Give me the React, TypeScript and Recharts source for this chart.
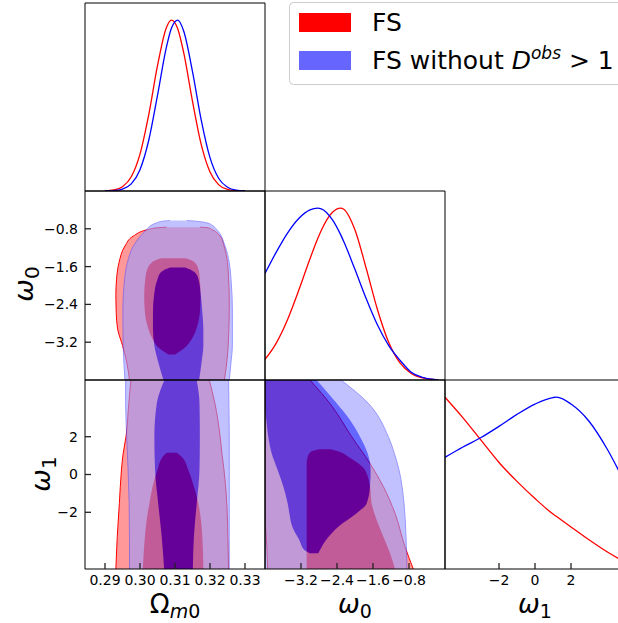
import React from 'react';
import { ComposedChart, LineChart, Line, Area, XAxis, YAxis } from 'recharts';

const RED = '#ff0000';
const BLUE = '#0000ff';

// panel grid (pixels on the page)
const COLS = [85, 265, 445];
const ROWS = [3, 191, 380];
const PW = 180;
const PH = [188, 189, 189];
const M0 = { top: 0, right: 0, bottom: 0, left: 0 };

// axes
const omDomain = [0.284286, 0.335714];
const w0Domain = [-4, 0];
const w1Domain = [-5, 5];
const pDomain = [0, 1.1];
const omTicks = [0.29, 0.3, 0.31, 0.32, 0.33];
const w0Ticks = [-3.2, -2.4, -1.6, -0.8];
const w1Ticks = [-2, 0, 2];

// 1D marginals
const omGrid = [0.29, 0.2925, 0.295, 0.2975, 0.3, 0.3025, 0.305, 0.3075, 0.309, 0.3108, 0.3125, 0.315, 0.3175, 0.32, 0.3225, 0.325, 0.3275, 0.33];
const omFS = [0.001, 0.006, 0.025, 0.083, 0.216, 0.447, 0.733, 0.954, 1.0, 0.948, 0.808, 0.525, 0.271, 0.111, 0.036, 0.009, 0.002, 0.0];
const omNoD = [0.0, 0.002, 0.011, 0.042, 0.125, 0.297, 0.56, 0.837, 0.954, 1.0, 0.935, 0.699, 0.415, 0.195, 0.073, 0.022, 0.005, 0.001];

const w0Grid = [-4, -3.75, -3.5, -3.25, -3.0, -2.83, -2.75, -2.5, -2.32, -2.25, -2.0, -1.75, -1.5, -1.25, -1.0, -0.75, -0.5, -0.25, -0.15];
const w0FS = [0.12, 0.215, 0.351, 0.522, 0.706, 0.822, 0.87, 0.976, 1.0, 0.994, 0.873, 0.649, 0.409, 0.218, 0.099, 0.038, 0.012, 0.003, 0.001];
const w0NoD = [0.62, 0.744, 0.855, 0.94, 0.99, 1.0, 0.996, 0.932, 0.846, 0.806, 0.643, 0.473, 0.32, 0.2, 0.115, 0.045, 0.015, 0.003, 0.001];

const w1Grid = [-5, -4, -3, -2, -1, 0, 1, 1.2, 2, 3, 4, 5];
const w1FS = [1.0, 0.88, 0.75, 0.62, 0.51, 0.41, 0.32, 0.305, 0.245, 0.17, 0.1, 0.04];
const w1NoD = [0.65, 0.71, 0.765, 0.83, 0.9, 0.96, 0.998, 1.0, 0.96, 0.86, 0.7, 0.5];

// 2D contours: [y, xLow, xHigh]
// Omega_m0 (x) vs w0 (y)
const mlFSOuter = [
  [-0.765, 0.3076, 0.3171], [-0.78, 0.3048, 0.3195], [-0.814, 0.3024, 0.3205], [-0.954, 0.2981, 0.3229],
  [-1.165, 0.2957, 0.324], [-1.516, 0.294, 0.325], [-1.867, 0.2933, 0.3253], [-2.218, 0.2931, 0.3255],
  [-2.568, 0.2932, 0.3255], [-2.919, 0.2936, 0.3254], [-3.27, 0.295, 0.3252], [-3.62, 0.2962, 0.3248],
  [-4.0, 0.297, 0.3241],
];
const mlFSInner = [
  [-1.425, 0.3062, 0.3129], [-1.46, 0.3046, 0.3145], [-1.516, 0.3033, 0.3157], [-1.656, 0.3021, 0.3167],
  [-1.867, 0.3015, 0.3171], [-2.218, 0.3012, 0.3173], [-2.568, 0.3014, 0.3171], [-2.849, 0.3021, 0.3164],
  [-3.13, 0.3036, 0.3148], [-3.34, 0.3057, 0.3124], [-3.46, 0.3081, 0.31],
];
const mlNoDOuter = [
  [-0.625, 0.3085, 0.3134], [-0.64, 0.3064, 0.316], [-0.674, 0.3048, 0.3191], [-0.73, 0.3031, 0.3207],
  [-0.814, 0.3019, 0.3219], [-1.165, 0.2981, 0.3243], [-1.516, 0.2964, 0.3255], [-1.867, 0.2956, 0.326],
  [-2.568, 0.2951, 0.3264], [-3.27, 0.2952, 0.3264], [-3.62, 0.2954, 0.326], [-4.0, 0.2957, 0.3255],
];
const mlNoDInner = [
  [-1.621, 0.3086, 0.3129], [-1.68, 0.3067, 0.3148], [-1.726, 0.3059, 0.3157], [-1.867, 0.305, 0.3167],
  [-2.218, 0.304, 0.3174], [-2.568, 0.3037, 0.3178], [-2.919, 0.3037, 0.3181], [-3.27, 0.3041, 0.3181],
  [-3.62, 0.3052, 0.3176], [-4.0, 0.3067, 0.3169],
];

// Omega_m0 (x) vs w1 (y)
const blFSOuter = [
  [5, 0.2974, 0.3198], [3.765, 0.2968, 0.3214], [2.0, 0.296, 0.3229], [1.12, 0.2952, 0.3234],
  [0.24, 0.2947, 0.324], [-1.53, 0.2941, 0.3248], [-3.29, 0.2935, 0.3251], [-5, 0.2931, 0.3253],
];
const blFSInner = [
  [1.155, 0.3076, 0.3105], [0.94, 0.3065, 0.3119], [0.24, 0.305, 0.3138], [-0.64, 0.3036, 0.3154],
  [-1.53, 0.3027, 0.3167], [-2.41, 0.3019, 0.3174], [-3.29, 0.3014, 0.3178], [-5, 0.3008, 0.3181],
];
const blNoDOuter = [
  [5, 0.2959, 0.3253], [3.765, 0.2959, 0.3254], [2.0, 0.2962, 0.3255], [0.24, 0.2966, 0.3255],
  [-1.53, 0.2969, 0.3255], [-3.29, 0.297, 0.3255], [-5, 0.297, 0.3255],
];
const blNoDInner = [
  [5, 0.307, 0.3162], [3.765, 0.3048, 0.317], [2.0, 0.3041, 0.3171], [0.24, 0.3043, 0.317],
  [-1.53, 0.3052, 0.3162], [-3.29, 0.3062, 0.3154], [-5, 0.3069, 0.3151],
];

// w0 (x) vs w1 (y)
const bmFSOuter = [
  [5, -4, -3.0], [3.59, -4, -2.504], [2.0, -4, -2.074], [0.59, -4, -1.667], [-0.64, -4, -1.37],
  [-2.05, -4, -1.111], [-3.82, -3.96, -0.889], [-5, -3.94, -0.704],
];
const bmFSInner = [
  [1.33, -2.78, -2.55], [1.2, -2.98, -2.35], [0.94, -3.05, -2.15], [0.59, -3.074, -1.93], [0.24, -3.074, -1.778],
  [-0.64, -3.074, -1.667], [-1.53, -3.074, -1.63], [-2.41, -3.074, -1.519], [-3.29, -3.074, -1.37],
  [-4.17, -3.074, -1.222], [-5, -3.074, -1.111],
];
const bmNoDOuter = [
  [5, -4, -2.311], [3.765, -4, -1.704], [2.0, -4, -1.259], [1.12, -4, -1.126], [0.24, -4, -1.022],
  [-1.53, -4, -0.911], [-3.29, -4, -0.867], [-5, -4, -0.844],
];
const bmNoDInner = [
  [5, -4, -2.852], [3.765, -4, -2.407], [2.88, -3.97, -2.111], [2.0, -3.926, -1.889], [1.12, -3.852, -1.719],
  [0.24, -3.719, -1.652], [-0.64, -3.593, -1.667], [-1.53, -3.496, -1.741], [-2.05, -3.459, -1.963],
  [-2.76, -3.393, -2.37], [-3.47, -3.237, -2.644], [-4.0, -3.126, -2.778], [-4.17, -3.0, -2.815],
];

const rows = (a: number[][]) => a.map(([y, lo, hi]) => ({ y, r: [lo, hi] }));
const curve = (xs: number[], ys: number[]) => xs.map((x, i) => ({ x, p: ys[i] }));
const minus = (s: string) => s.replace('-', '\u2212');
const fmtOm = (v: number) => v.toFixed(2);
const fmtW0 = (v: number) => minus(v.toFixed(1));
const fmtW1 = (v: number) => minus(String(v));

type Cont = {
  left: number; top: number; h: number; xd: number[]; yd: number[];
  outer: number[][]; inner: number[][]; outerFill: string; innerFill: string; stroke: string; opacity?: number;
};

const Contours = ({ left, top, h, xd, yd, outer, inner, outerFill, innerFill, stroke, opacity = 1 }: Cont) => (
  <div style={{ position: 'absolute', left, top, opacity }}>
    <ComposedChart layout="vertical" width={PW} height={h} margin={M0}>
      <XAxis type="number" domain={xd} allowDataOverflow hide />
      <YAxis type="number" dataKey="y" domain={yd} allowDataOverflow reversed hide />
      <Area data={rows(outer)} dataKey="r" type="monotone" fill={outerFill} fillOpacity={1}
        stroke={stroke} strokeWidth={1} isAnimationActive={false} activeDot={false} />
      <Area data={rows(inner)} dataKey="r" type="monotone" fill={innerFill} fillOpacity={1}
        stroke="none" isAnimationActive={false} activeDot={false} />
    </ComposedChart>
  </div>
);

const Marginal = ({ left, top, h, xd, grid, fs, nod }: any) => (
  <div style={{ position: 'absolute', left, top }}>
    <LineChart width={PW} height={h} margin={M0}>
      <XAxis type="number" dataKey="x" domain={xd} allowDataOverflow hide />
      <YAxis type="number" domain={pDomain} allowDataOverflow hide />
      <Line data={curve(grid, fs)} dataKey="p" type="monotone" stroke={RED} strokeWidth={1.3} dot={false} isAnimationActive={false} />
      <Line data={curve(grid, nod)} dataKey="p" type="monotone" stroke={BLUE} strokeWidth={1.3} dot={false} isAnimationActive={false} />
    </LineChart>
  </div>
);

const tickFont = { fontSize: 14, fill: '#000' };
const spine = { stroke: '#000', strokeWidth: 1 };
const tickStyle = { stroke: '#222', strokeWidth: 1.3 };

// axes need a non-zero thickness to be drawn, so the frame chart is 1px bigger on every side
const Frame = ({ left, top, h, xd, yd, xt, yt, xFmt, yFmt, xLab, yLab, topT, rightT, leftT }: any) => {
  const yTicks = yt.length ? yt : [yd[0]];
  const yTL = yt.length > 0;
  return (
    <div style={{ position: 'absolute', left: left - 1, top: top - 1 }}>
      <ComposedChart width={PW + 2} height={h + 2} margin={M0} data={[{ fx: xd[0], fy: yd[0] }, { fx: xd[1], fy: yd[1] }]}>
        <XAxis xAxisId="b" type="number" dataKey="fx" domain={xd} allowDataOverflow ticks={xt} interval={0}
          height={1} tickSize={-6} tickMargin={12} tick={xLab ? tickFont : false} tickFormatter={xFmt}
          axisLine={spine} tickLine={tickStyle} />
        <XAxis xAxisId="t" orientation="top" type="number" dataKey="fx" domain={xd} allowDataOverflow ticks={xt} interval={0}
          height={1} tickSize={-6} tick={false} axisLine={spine} tickLine={topT ? tickStyle : false} />
        <YAxis yAxisId="l" type="number" dataKey="fy" domain={yd} allowDataOverflow ticks={yTicks} interval={0}
          width={1} tickSize={-6} tickMargin={13} tick={yLab ? tickFont : false} tickFormatter={yFmt}
          axisLine={spine} tickLine={leftT && yTL ? tickStyle : false} />
        <YAxis yAxisId="r" orientation="right" type="number" dataKey="fy" domain={yd} allowDataOverflow ticks={yTicks} interval={0}
          width={1} tickSize={-6} tick={false} axisLine={spine} tickLine={rightT && yTL ? tickStyle : false} />
        <Line xAxisId="b" yAxisId="l" dataKey="fy" stroke="none" dot={false} activeDot={false} isAnimationActive={false} />
        <Line xAxisId="t" yAxisId="r" dataKey="fy" stroke="none" dot={false} activeDot={false} isAnimationActive={false} />
      </ComposedChart>
    </div>
  );
};

const RO = '#ff9999';
const BO = '#9999ff';

export default function App() {
  return (
    <div style={{ position: 'absolute', left: 0, top: 0, width: 618, height: 623, overflow: 'hidden', background: '#fff', fontFamily: 'DejaVu Sans' }}>
      <style>{'.recharts-surface{overflow:visible}'}</style>

      {/* FS (red), opaque */}
      <Contours left={COLS[0]} top={ROWS[1]} h={PH[1]} xd={omDomain} yd={w0Domain} outer={mlFSOuter} inner={mlFSInner} outerFill={RO} innerFill={RED} stroke={RED} />
      <Contours left={COLS[0]} top={ROWS[2]} h={PH[2]} xd={omDomain} yd={w1Domain} outer={blFSOuter} inner={blFSInner} outerFill={RO} innerFill={RED} stroke={RED} />
      <Contours left={COLS[1]} top={ROWS[2]} h={PH[2]} xd={w0Domain} yd={w1Domain} outer={bmFSOuter} inner={bmFSInner} outerFill={RO} innerFill={RED} stroke={RED} />

      {/* FS without D>1 (blue), translucent layer */}
      <Contours left={COLS[0]} top={ROWS[1]} h={PH[1]} xd={omDomain} yd={w0Domain} outer={mlNoDOuter} inner={mlNoDInner} outerFill={BO} innerFill={BLUE} stroke="#5555ff" opacity={0.6} />
      <Contours left={COLS[0]} top={ROWS[2]} h={PH[2]} xd={omDomain} yd={w1Domain} outer={blNoDOuter} inner={blNoDInner} outerFill={BO} innerFill={BLUE} stroke="#5555ff" opacity={0.6} />
      <Contours left={COLS[1]} top={ROWS[2]} h={PH[2]} xd={w0Domain} yd={w1Domain} outer={bmNoDOuter} inner={bmNoDInner} outerFill={BO} innerFill={BLUE} stroke="#5555ff" opacity={0.6} />

      <Marginal left={COLS[0]} top={ROWS[0]} h={PH[0]} xd={omDomain} grid={omGrid} fs={omFS} nod={omNoD} />
      <Marginal left={COLS[1]} top={ROWS[1]} h={PH[1]} xd={w0Domain} grid={w0Grid} fs={w0FS} nod={w0NoD} />
      <Marginal left={COLS[2]} top={ROWS[2]} h={PH[2]} xd={w1Domain} grid={w1Grid} fs={w1FS} nod={w1NoD} />

      {/* frames and ticks */}
      <Frame left={COLS[0]} top={ROWS[0]} h={PH[0]} xd={omDomain} yd={pDomain} xt={omTicks} yt={[]} />
      <Frame left={COLS[0]} top={ROWS[1]} h={PH[1]} xd={omDomain} yd={w0Domain} xt={omTicks} yt={w0Ticks} yFmt={fmtW0} yLab topT rightT leftT />
      <Frame left={COLS[1]} top={ROWS[1]} h={PH[1]} xd={w0Domain} yd={pDomain} xt={w0Ticks} yt={[]} />
      <Frame left={COLS[0]} top={ROWS[2]} h={PH[2]} xd={omDomain} yd={w1Domain} xt={omTicks} yt={w1Ticks} xFmt={fmtOm} yFmt={fmtW1} xLab yLab topT rightT leftT />
      <Frame left={COLS[1]} top={ROWS[2]} h={PH[2]} xd={w0Domain} yd={w1Domain} xt={w0Ticks} yt={w1Ticks} xFmt={fmtW0} xLab rightT />
      <Frame left={COLS[2]} top={ROWS[2]} h={PH[2]} xd={w1Domain} yd={pDomain} xt={w1Ticks} yt={[]} xFmt={fmtW1} xLab />

      {/* axis titles and legend */}
      <svg width={618} height={623} style={{ position: 'absolute', left: 0, top: 0 }} fontFamily="DejaVu Sans">
        <text x={175} y={613} fontSize={26} textAnchor="middle">Ω<tspan fontSize={19} fontStyle="italic" dy={5}>m</tspan><tspan fontSize={19}>0</tspan></text>
        <text x={355} y={613} fontSize={26} textAnchor="middle"><tspan fontStyle="italic">ω</tspan><tspan fontSize={19} dy={5}>0</tspan></text>
        <text x={535} y={613} fontSize={26} textAnchor="middle"><tspan fontStyle="italic">ω</tspan><tspan fontSize={19} dy={5}>1</tspan></text>
        <text transform="translate(33,284) rotate(-90)" fontSize={27} textAnchor="middle"><tspan fontStyle="italic">ω</tspan><tspan fontSize={20} dy={6}>0</tspan></text>
        <text transform="translate(50,474) rotate(-90)" fontSize={27} textAnchor="middle"><tspan fontStyle="italic">ω</tspan><tspan fontSize={20} dy={6}>1</tspan></text>

        <rect x={289.5} y={2.5} width={360} height={82} rx={4} fill="#fff" stroke="#cccccc" />
        <rect x={299} y={13} width={52} height={19} fill={RED} />
        <rect x={299} y={51} width={52} height={19} fill="#6666ff" />
        <text x={372} y={31} fontSize={25}>FS</text>
        <text x={372} y={69} fontSize={25}>FS without <tspan fontStyle="italic">D</tspan><tspan fontSize={17} fontStyle="italic" dy={-10}>obs</tspan><tspan dy={10}> &gt; 1</tspan></text>
      </svg>
    </div>
  );
}
